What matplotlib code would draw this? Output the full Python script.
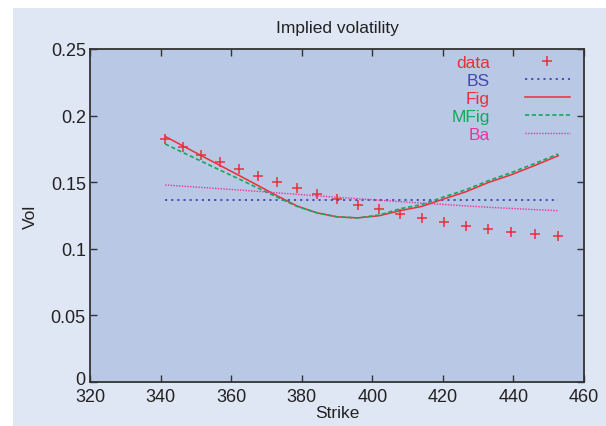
import numpy as np
import matplotlib
matplotlib.use("Agg")
import matplotlib.pyplot as plt
from matplotlib.patches import Rectangle
from matplotlib.transforms import ScaledTranslation

plt.rcParams['font.family'] = ['Liberation Sans', 'DejaVu Sans']

# market strikes and implied vols
strike = [341.3, 346.3, 351.5, 356.9, 362.3, 367.6, 373.1, 378.7, 384.3, 390.0,
          395.9, 401.9, 407.8, 414.0, 420.2, 426.5, 432.9, 439.4, 446.0, 452.7]
data_vol = [0.1824, 0.1762, 0.1707, 0.1650, 0.1597, 0.1545, 0.1500, 0.1455, 0.1410, 0.1372,
            0.1330, 0.1298, 0.1261, 0.1231, 0.1201, 0.1174, 0.1151, 0.1129, 0.1109, 0.1094]

# model fits
bs_vol = [0.1370] * len(strike)
fig_vol = [0.1844, 0.1773, 0.1700, 0.1625, 0.1550, 0.1475, 0.1397, 0.1321, 0.1270, 0.1240,
           0.1232, 0.1248, 0.1286, 0.1318, 0.1374, 0.1428, 0.1498, 0.1556, 0.1625, 0.1699]
mfig_vol = [0.1787, 0.1723, 0.1658, 0.1590, 0.1523, 0.1456, 0.1387, 0.1318, 0.1270, 0.1240,
            0.1232, 0.1253, 0.1300, 0.1332, 0.1389, 0.1443, 0.1511, 0.1572, 0.1640, 0.1712]
ba_vol = [0.1479, 0.1470, 0.1461, 0.1451, 0.1441, 0.1431, 0.1420, 0.1409, 0.1398, 0.1387,
          0.1376, 0.1365, 0.1354, 0.1343, 0.1333, 0.1322, 0.1312, 0.1303, 0.1294, 0.1286]

RED = '#ec2f3a'
BLUE = '#4348b0'
GREEN = '#13a85a'
PINK = '#e8349c'

fig = plt.figure(figsize=(6.06, 4.27), dpi=100)
fig.patch.set_facecolor('white')
fig.patches.append(Rectangle((13 / 606, 0), 1, (427 - 9) / 427, transform=fig.transFigure,
                             facecolor='#e0e7f4', edgecolor='none', zorder=-10))

ax = fig.add_axes([90 / 606, 44 / 427, 494 / 606, 333 / 427])
ax.set_facecolor('#b9c8e4')

ax.plot(strike, data_vol, linestyle='none', marker='+', color=RED, markersize=7,
        markeredgewidth=1.1, label='data')
ax.plot(strike, bs_vol, color=BLUE, lw=1.3, linestyle=(0, (1.2, 2.2)), label='BS')
ax.plot(strike, fig_vol, color=RED, lw=1.1, label='Fig')
ax.plot(strike, mfig_vol, color=GREEN, lw=1.2, linestyle=(0, (2.5, 1.6)), label='MFig')
ax.plot(strike, ba_vol, color=PINK, lw=1.0, linestyle=(0, (1, 1)), label='Ba')

ax.set_xlim(320, 460)
ax.set_ylim(0, 0.25)
ax.set_xticks(np.arange(320, 461, 20))
ax.set_yticks([0, 0.05, 0.1, 0.15, 0.2, 0.25])
ax.set_yticklabels(['0', '0.05', '0.1', '0.15', '0.2', '0.25'])
ax.tick_params(direction='in', length=5, width=1, top=True, right=True,
               labelsize=13, colors='#333333', labelcolor='#222222', pad=3)
ax.tick_params(axis='x', pad=4)
for s in ax.spines.values():
    s.set_color('#333333')
    s.set_linewidth(1.3)

# lift the "0" label a little so it sits just above "320"
zero_lbl = ax.get_yticklabels()[0]
zero_lbl.set_transform(zero_lbl.get_transform() + ScaledTranslation(0, 3 / 72, fig.dpi_scale_trans))

ax.set_title('Implied volatility', fontsize=12.5, color='#222222', pad=12)
ax.set_xlabel('Strike', fontsize=12.5, color='#222222', labelpad=0)
ax.set_ylabel('Vol', fontsize=12.5, color='#222222', labelpad=9)

leg = ax.legend(loc='upper right', bbox_to_anchor=(0.982, 0.998), frameon=False,
                markerfirst=False, fontsize=12.5, labelcolor='linecolor',
                handlelength=2.6, handletextpad=2.0, labelspacing=0.16,
                borderaxespad=0.1, borderpad=0.2)

fig.savefig('out.png', dpi=100)
